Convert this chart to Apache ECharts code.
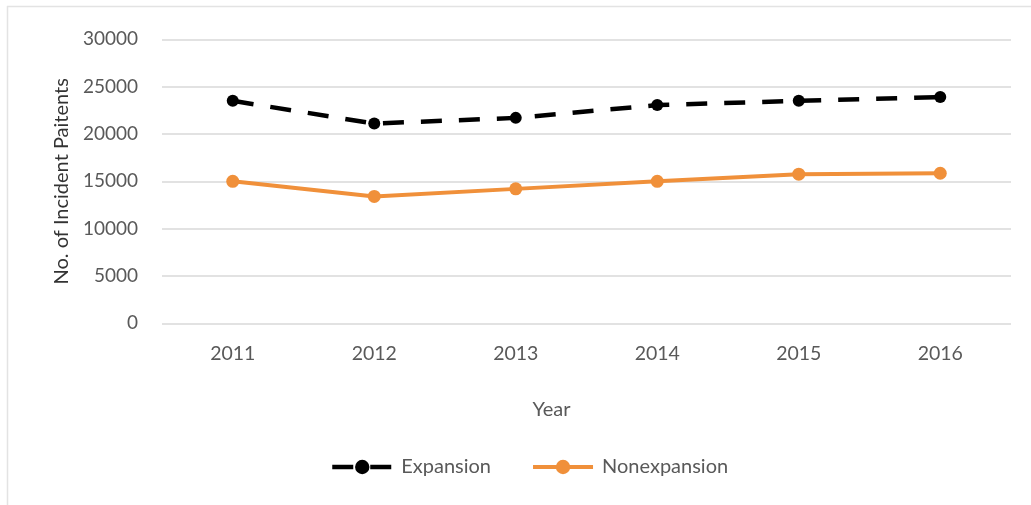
<!DOCTYPE html>
<html>
<head>
<meta charset="utf-8">
<script src="https://cdn.jsdelivr.net/npm/echarts@6/dist/echarts.min.js"></script>
<style>
  html, body { margin: 0; padding: 0; background: #ffffff; }
  #chart { width: 1031px; height: 505px; }
</style>
</head>
<body>
<div id="chart"></div>
<script>
// Incident patients per year, Medicaid expansion vs nonexpansion states
const years = ['2011', '2012', '2013', '2014', '2015', '2016'];
const expansion = [23500, 21100, 21700, 23050, 23500, 23900];
const nonexpansion = [15000, 13400, 14200, 15000, 15750, 15850];
const yTicks = { min: 0, max: 30000, step: 5000 };

const FONT = 'Lato';
const LABEL_GREY = '#595959';
const GRID_GREY = '#d9d9d9';
const BLACK = '#000000';
const ORANGE = '#f0903a';

const chart = echarts.init(document.getElementById('chart'), null, { renderer: 'canvas' });

chart.setOption({
  backgroundColor: '#ffffff',
  animation: false,
  textStyle: { fontFamily: FONT },
  graphic: [
    // thin frame around the chart area
    { type: 'line', shape: { x1: 7, y1: 6.5, x2: 1031, y2: 6.5 }, style: { stroke: '#e3e3e3', lineWidth: 1.5 } },
    { type: 'line', shape: { x1: 7.5, y1: 6, x2: 7.5, y2: 505 }, style: { stroke: '#e3e3e3', lineWidth: 1.5 } }
  ],
  grid: { left: 162, right: 20, top: 39.3, bottom: 181.7, containLabel: false },
  legend: {
    left: 325,
    top: 452,
    itemWidth: 60,
    itemHeight: 18,
    itemGap: 40,
    textStyle: { color: LABEL_GREY, fontSize: 20, fontFamily: FONT, padding: [0, 0, 0, 4] },
    data: [
      { name: 'Expansion', lineStyle: { width: 4.5, color: BLACK, type: [21, 17] } },
      { name: 'Nonexpansion', lineStyle: { width: 4, color: ORANGE } }
    ]
  },
  xAxis: {
    type: 'category',
    data: years,
    boundaryGap: true,
    axisLine: { show: false },
    axisTick: { show: false },
    axisLabel: { color: LABEL_GREY, fontSize: 19.5, fontFamily: FONT, margin: 20 },
    name: 'Year',
    nameLocation: 'middle',
    nameGap: 76,
    nameTextStyle: { color: LABEL_GREY, fontSize: 20, fontFamily: FONT, padding: [0, 70, 0, 0] }
  },
  yAxis: {
    type: 'value',
    min: yTicks.min,
    max: yTicks.max,
    interval: yTicks.step,
    axisLine: { show: false },
    axisTick: { show: false },
    axisLabel: {
      color: LABEL_GREY, fontSize: 19, fontFamily: FONT, margin: 24,
      formatter: (v) => String(v)
    },
    splitLine: { lineStyle: { color: GRID_GREY, width: 1.5 } },
    name: 'No. of Incident Paitents',
    nameLocation: 'middle',
    nameGap: 89,
    nameTextStyle: { color: '#333333', fontSize: 20, fontFamily: FONT }
  },
  series: [
    {
      name: 'Expansion',
      type: 'line',
      data: expansion,
      symbol: 'circle',
      symbolSize: 12,
      itemStyle: { color: BLACK },
      lineStyle: { color: BLACK, width: 4.5, type: [21, 17] },
      z: 3
    },
    {
      name: 'Nonexpansion',
      type: 'line',
      data: nonexpansion,
      symbol: 'circle',
      symbolSize: 13,
      itemStyle: { color: ORANGE },
      lineStyle: { color: ORANGE, width: 4 },
      z: 2
    }
  ]
});
</script>
</body>
</html>
